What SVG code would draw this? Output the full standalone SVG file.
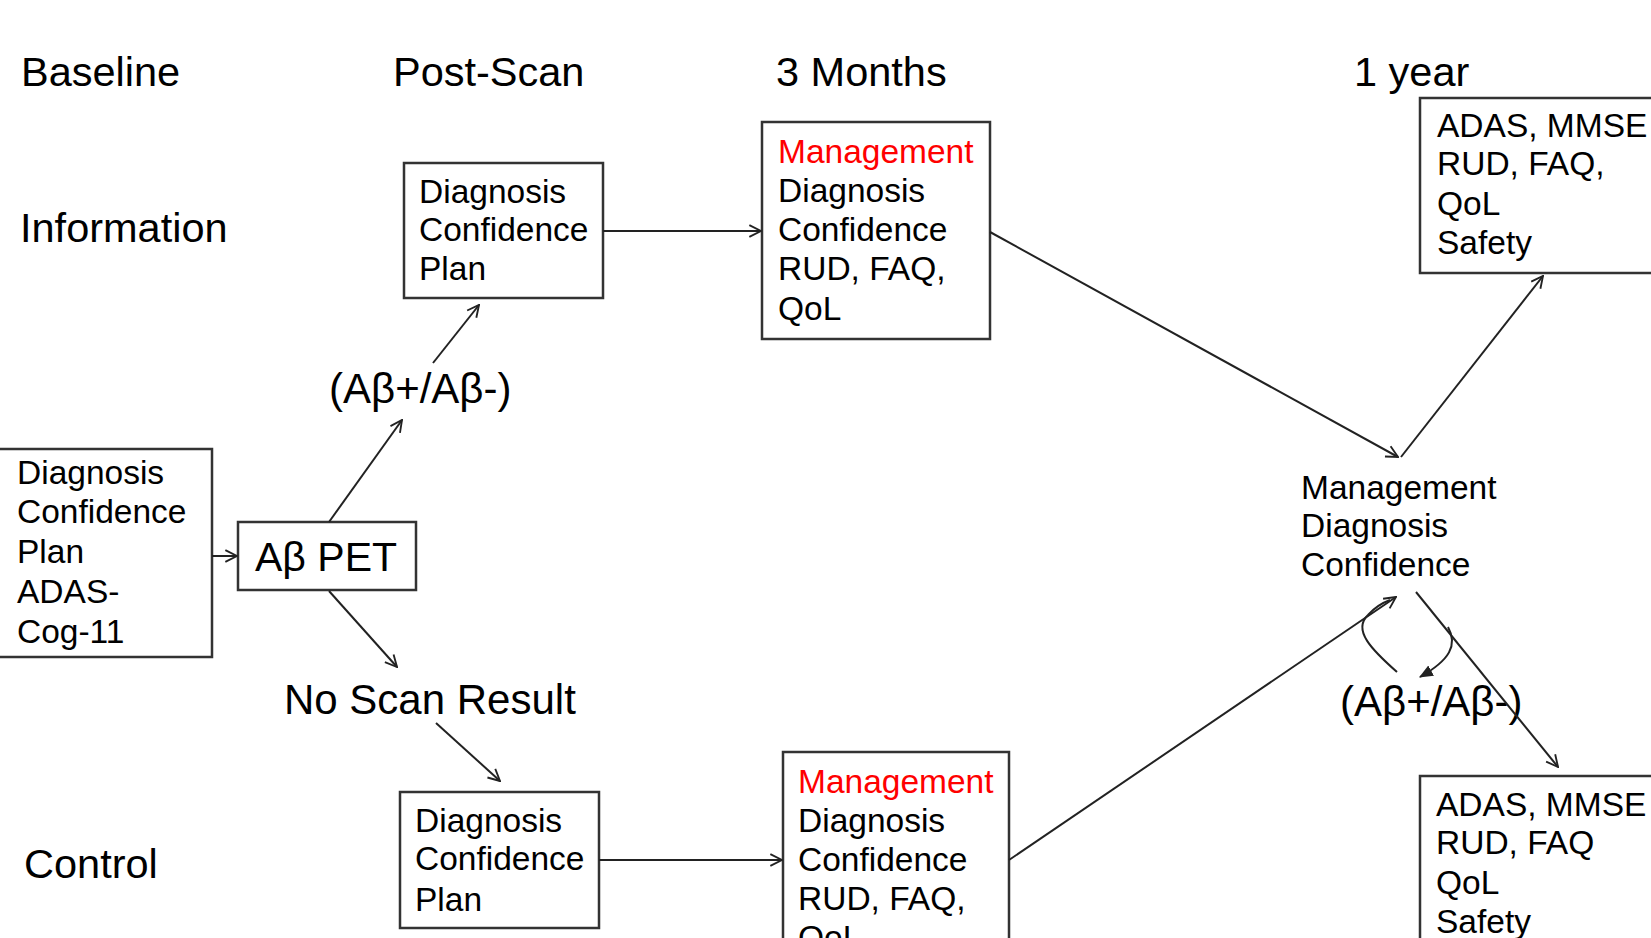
<svg xmlns="http://www.w3.org/2000/svg" width="1651" height="938" viewBox="0 0 1651 938">
<style>
text{font-family:"Liberation Sans",Arial,Helvetica,sans-serif;fill:#000}
.h{font-size:41.5px}
.t{font-size:33.5px}
.b{font-size:41px}
.l{font-size:42px}
.red{fill:#ff0000}
.box{fill:#fff;stroke:#333;stroke-width:2.5}
.c line,.c path{stroke:#222;stroke-width:2;fill:none}
</style>
<defs>
<marker id="ah" viewBox="0 0 12 12" refX="11" refY="6" markerWidth="14" markerHeight="14" markerUnits="userSpaceOnUse" orient="auto">
<path d="M1,1 L11,6 L1,11" fill="none" stroke="#222" stroke-width="1.6"/>
</marker>
<marker id="af" viewBox="0 0 12 12" refX="11" refY="6" markerWidth="14" markerHeight="14" markerUnits="userSpaceOnUse" orient="auto">
<path d="M0,1 L12,6 L0,11 Z" fill="#222"/>
</marker>
</defs>
<rect width="1651" height="938" fill="#fff"/>
<g id="headers">
<text class="h" x="21" y="86">Baseline</text>
<text class="h" x="393" y="86">Post-Scan</text>
<text class="h" x="776" y="86">3 Months</text>
<text class="h" x="1354" y="86">1 year</text>
<text class="h" x="20" y="242">Information</text>
<text class="h" x="24" y="878">Control</text>
</g>
<g id="baseline-box">
<rect class="box" x="-2" y="449" width="214" height="208"/>
<text class="t" x="17" y="484">Diagnosis</text>
<text class="t" x="17" y="523">Confidence</text>
<text class="t" x="17" y="563">Plan</text>
<text class="t" x="17" y="603">ADAS-</text>
<text class="t" x="17" y="643">Cog-11</text>
</g>
<g id="pet">
<rect class="box" x="238" y="522" width="178" height="68"/>
<text class="b" x="255" y="571">Aβ PET</text>
</g>
<g id="label-pos">
<text class="l" x="329" y="403">(Aβ+/Aβ-)</text>
</g>
<g id="label-noscan">
<text class="l" x="284" y="714">No Scan Result</text>
</g>
<g id="post-info">
<rect class="box" x="404" y="163" width="199" height="135"/>
<text class="t" x="419" y="203">Diagnosis</text>
<text class="t" x="419" y="241">Confidence</text>
<text class="t" x="419" y="280">Plan</text>
</g>
<g id="m3-info">
<rect class="box" x="762" y="122" width="228" height="217"/>
<text class="t red" x="778" y="163">Management</text>
<text class="t" x="778" y="202">Diagnosis</text>
<text class="t" x="778" y="241">Confidence</text>
<text class="t" x="778" y="280">RUD, FAQ,</text>
<text class="t" x="778" y="320">QoL</text>
</g>
<g id="y1-info">
<rect class="box" x="1420" y="98" width="250" height="175"/>
<text class="t" x="1437" y="137">ADAS, MMSE</text>
<text class="t" x="1437" y="175">RUD, FAQ,</text>
<text class="t" x="1437" y="215">QoL</text>
<text class="t" x="1437" y="254">Safety</text>
</g>
<g id="center">
<text class="t" x="1301" y="499">Management</text>
<text class="t" x="1301" y="537">Diagnosis</text>
<text class="t" x="1301" y="576">Confidence</text>
</g>
<g id="label-pos2">
<text class="l" x="1340" y="716">(Aβ+/Aβ-)</text>
</g>
<g id="post-control">
<rect class="box" x="400" y="792" width="199" height="136"/>
<text class="t" x="415" y="832">Diagnosis</text>
<text class="t" x="415" y="870">Confidence</text>
<text class="t" x="415" y="911">Plan</text>
</g>
<g id="m3-control">
<rect class="box" x="783" y="752" width="226" height="200"/>
<text class="t red" x="798" y="793">Management</text>
<text class="t" x="798" y="832">Diagnosis</text>
<text class="t" x="798" y="871">Confidence</text>
<text class="t" x="798" y="910">RUD, FAQ,</text>
<text class="t" x="798" y="949">QoL</text>
</g>
<g id="y1-control">
<rect class="box" x="1420" y="776" width="250" height="180"/>
<text class="t" x="1436" y="816">ADAS, MMSE</text>
<text class="t" x="1436" y="854">RUD, FAQ</text>
<text class="t" x="1436" y="894">QoL</text>
<text class="t" x="1436" y="933">Safety</text>
</g>
<g id="connectors" class="c">
<line x1="212" y1="556" x2="237" y2="556" marker-end="url(#ah)"/>
<line x1="329" y1="522" x2="402" y2="420" marker-end="url(#ah)"/>
<line x1="433" y1="363" x2="479" y2="305" marker-end="url(#ah)"/>
<line x1="329" y1="591" x2="397" y2="667" marker-end="url(#ah)"/>
<line x1="436" y1="723" x2="500" y2="781" marker-end="url(#ah)"/>
<line x1="603" y1="231" x2="761" y2="231" marker-end="url(#ah)"/>
<line x1="599" y1="860" x2="782" y2="860" marker-end="url(#ah)"/>
<line x1="990" y1="232" x2="1398" y2="457" marker-end="url(#ah)"/>
<line x1="1401" y1="457" x2="1543" y2="276" marker-end="url(#ah)"/>
<line x1="1009" y1="860" x2="1396" y2="597" marker-end="url(#ah)"/>
<line x1="1416" y1="592" x2="1558" y2="767" marker-end="url(#ah)"/>
<path d="M1397,672 C1372,650 1352,630 1368,615 C1375,607 1382,603 1390,600"/>
<path d="M1448,627 C1458,645 1450,660 1420,677" marker-end="url(#af)"/>
</g>
</svg>
